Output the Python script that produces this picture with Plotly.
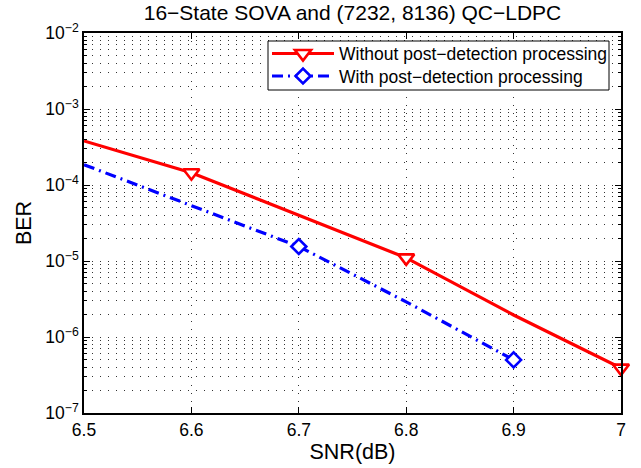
import plotly.graph_objects as go

# ---- data ----
snr_without = [6.5, 6.6, 6.7, 6.8, 6.9, 7.0]
ber_without = [3.8e-4, 1.45e-4, 4.0e-5, 1.1e-5, 1.95e-6, 3.9e-7]
mk_snr_without = [6.6, 6.8, 7.0]
mk_ber_without = [1.45e-4, 1.1e-5, 3.9e-7]

snr_with = [6.5, 6.6, 6.7, 6.8, 6.9]
ber_with = [1.85e-4, 5.3e-5, 1.55e-5, 2.9e-6, 5.0e-7]
mk_snr_with = [6.7, 6.9]
mk_ber_with = [1.55e-5, 5.0e-7]

x_ticks = [6.5, 6.6, 6.7, 6.8, 6.9, 7.0]
x_ticklabels = ["6.5", "6.6", "6.7", "6.8", "6.9", "7"]
y_ticks = [1e-7, 1e-6, 1e-5, 1e-4, 1e-3, 1e-2]
y_ticklabels = ["10<sup>−7</sup>", "10<sup>−6</sup>", "10<sup>−5</sup>",
                "10<sup>−4</sup>", "10<sup>−3</sup>", "10<sup>−2</sup>"]

name_without = "Without post−detection processing"
name_with = "With post−detection processing"
title_text = "16−State SOVA and (7232, 8136) QC−LDPC"

RED = "#ff0000"
BLUE = "#0000ff"
FONT = "Liberation Sans"
blue_dash = "11px,5px,2px,5px"

# ---- layout geometry (page pixels) ----
W, H = 641, 468
PL, PR, PT, PB = 84, 621, 33, 413
pw, ph = PR - PL, PB - PT


def px(xp):
    return (xp - PL) / pw


def py(yp):
    return (PB - yp) / ph


LEG_FONT = 17.5
item_h = max(LEG_FONT * 1.3, 16) + 3
row1_y, row2_y = 53.5, 76.0
leg_left = 267

tri = dict(symbol="triangle-down", size=14, color="white", line=dict(color=RED, width=2.6))
dia = dict(symbol="diamond", size=11.5, color="white", line=dict(color=BLUE, width=2.6))

fig = go.Figure()

# lines
fig.add_trace(go.Scatter(x=snr_without, y=ber_without, mode="lines",
                         line=dict(color=RED, width=3.2), showlegend=False,
                         hoverinfo="skip"))
fig.add_trace(go.Scatter(x=snr_with, y=ber_with, mode="lines",
                         line=dict(color=BLUE, width=3.2, dash=blue_dash),
                         showlegend=False, hoverinfo="skip"))
# markers
fig.add_trace(go.Scatter(x=mk_snr_without, y=mk_ber_without, mode="markers",
                         marker=tri, showlegend=False, cliponaxis=False))
fig.add_trace(go.Scatter(x=mk_snr_with, y=mk_ber_with, mode="markers",
                         marker=dia, showlegend=False, cliponaxis=False))
# legend entries (one legend per row)
fig.add_trace(go.Scatter(x=[None], y=[None], mode="lines+markers", name=name_without,
                         legend="legend", line=dict(color=RED, width=3.2), marker=tri))
fig.add_trace(go.Scatter(x=[None], y=[None], mode="lines+markers", name=name_with,
                         legend="legend2", line=dict(color=BLUE, width=3.2, dash=blue_dash),
                         marker=dia))

grid_dash = "1px,7px"
GRID = "#333333"
grid_common = dict(showgrid=True, gridcolor=GRID, gridwidth=1, griddash=grid_dash)

leg_common = dict(xanchor="left", yanchor="top", bgcolor="rgba(0,0,0,0)",
                  borderwidth=0, font=dict(size=LEG_FONT, family=FONT, color="black"),
                  itemwidth=62)

fig.update_layout(
    width=W, height=H,
    margin=dict(l=PL, r=W - PR, t=PT, b=H - PB, autoexpand=False),
    paper_bgcolor="white", plot_bgcolor="white",
    font=dict(family=FONT, size=17.5, color="black"),
    title=dict(text=title_text, x=0.5, xref="paper", xanchor="center",
               y=1 - 12.7 / H, yref="container", yanchor="middle",
               font=dict(size=21, family=FONT, color="black")),
    legend=dict(x=px(leg_left), y=py(row1_y - 5 - item_h / 2), **leg_common),
    legend2=dict(x=px(leg_left), y=py(row2_y - 5 - item_h / 2), **leg_common),
    showlegend=True,
    shapes=[dict(type="rect", xref="paper", yref="paper",
                 x0=px(268), x1=px(609), y0=py(90), y1=py(41),
                 fillcolor="white", line=dict(color="black", width=1),
                 layer="above")],
)

fig.update_xaxes(
    range=[6.5, 7.0], tickvals=x_ticks, ticktext=x_ticklabels,
    ticks="inside", ticklen=6, tickcolor="black", tickwidth=1,
    showline=True, linecolor="black", linewidth=1.5, mirror="ticks",
    zeroline=False, automargin=False,
    title=dict(text="SNR(dB)", font=dict(size=21.5, family=FONT), standoff=2),
    **grid_common,
)
fig.update_yaxes(
    type="log", range=[-7, -2], tickvals=y_ticks, ticktext=y_ticklabels,
    ticks="inside", ticklen=6, tickcolor="black", tickwidth=1,
    showline=True, linecolor="black", linewidth=1.5, mirror="ticks",
    zeroline=False, automargin=False,
    minor=dict(dtick="D1", ticks="inside", ticklen=3, tickcolor="black",
               showgrid=True, gridcolor=GRID, gridwidth=1, griddash=grid_dash),
    title=dict(text="BER", font=dict(size=21.5, family=FONT), standoff=8),
    **grid_common,
)

fig.write_html("out.html", config={"displayModeBar": False},
               post_script="document.body.style.margin='0';document.body.style.overflow='hidden';")
